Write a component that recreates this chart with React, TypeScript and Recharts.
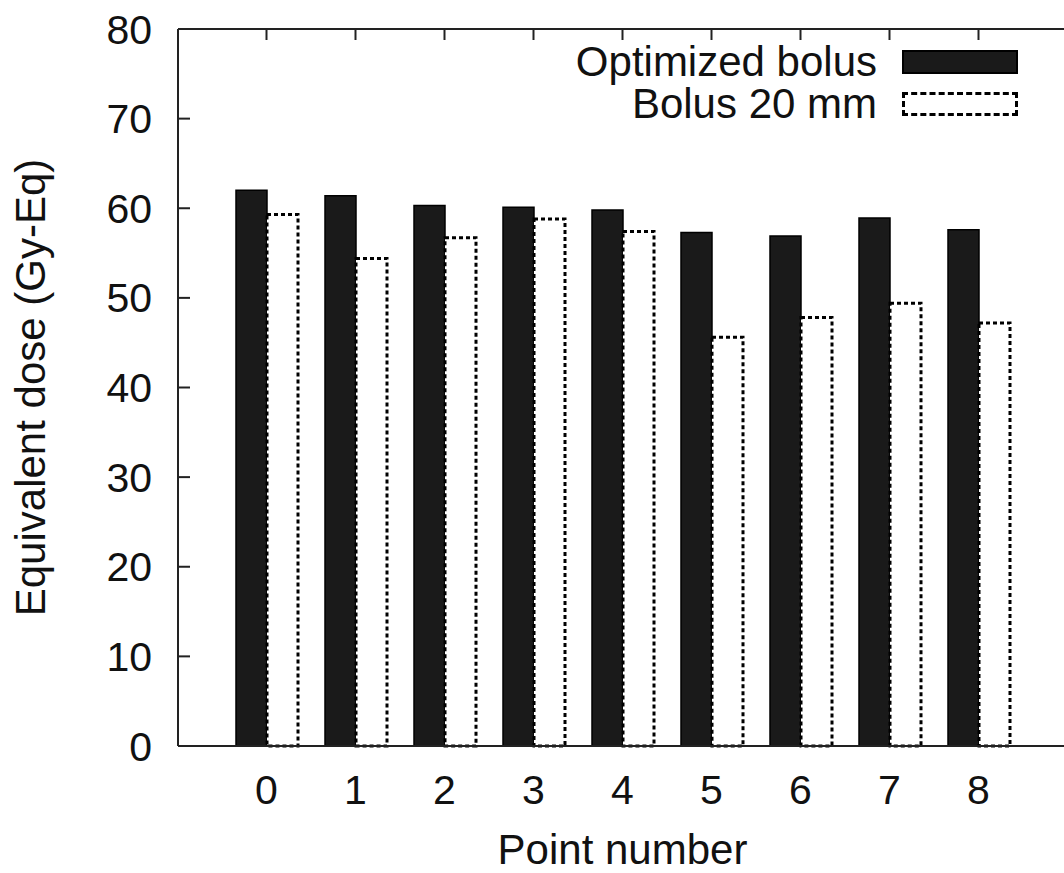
import { Bar, BarChart, Legend, XAxis, YAxis } from 'recharts';

const points = ['0', '1', '2', '3', '4', '5', '6', '7', '8'];
const optimizedBolus = [62.0, 61.4, 60.3, 60.1, 59.8, 57.3, 56.9, 58.9, 57.6];
const bolus20mm = [59.3, 54.4, 56.7, 58.8, 57.4, 45.6, 47.8, 49.4, 47.2];
const yTicks = [0, 10, 20, 30, 40, 50, 60, 70, 80];
const seriesNames = ['Optimized bolus', 'Bolus 20 mm'];
const xTitle = 'Point number';
const yTitle = 'Equivalent dose (Gy-Eq)';

const data = points.map((point, i) => ({
  point,
  optimized: optimizedBolus[i],
  bolus20: bolus20mm[i],
}));

const font = "'Liberation Sans', Arial, sans-serif";
const axisStroke = { stroke: '#222', strokeWidth: 2 };
const innerTick = { stroke: '#222', strokeWidth: 2 };
const tickStyle = { fill: '#111', fontSize: 41, fontFamily: font };
const titleStyle = { fill: '#111', fontSize: 42, fontFamily: font };
const xPadding = { left: 44, right: 44 };

function KeyLegend() {
  const boxes = [
    { background: '#1a1a1a', border: '2px solid #000' },
    { background: '#fff', border: '3px dashed #000' },
  ];
  return (
    <div style={{ fontFamily: font, fontSize: 42, color: '#111' }}>
      {seriesNames.map((name, i) => (
        <div
          key={name}
          style={{
            display: 'flex',
            justifyContent: 'flex-end',
            alignItems: 'center',
            height: 42,
          }}
        >
          <span style={{ display: 'inline-block', height: 40, lineHeight: '40px', overflow: 'visible' }}>{name}</span>
          <span
            style={{
              display: 'inline-block',
              boxSizing: 'border-box',
              width: 116,
              height: 24,
              marginLeft: 25,
              ...boxes[i],
            }}
          />
        </div>
      ))}
    </div>
  );
}

// rotated y title, drawn from the axis viewBox
function YTitle(props: any) {
  const vb = props.viewBox || { x: 0, y: 0, width: 0, height: 0 };
  const cx = vb.x + 30;
  const cy = vb.y + vb.height / 2;
  return (
    <text
      x={cx}
      y={cy}
      transform={`rotate(-90 ${cx} ${cy})`}
      textAnchor="middle"
      dominantBaseline="central"
      dy="0.02em"
      style={titleStyle}
    >
      {yTitle}
    </text>
  );
}

export default function App() {
  return (
    <div style={{ position: 'absolute', left: 0, top: 0, width: 1064, height: 873, overflow: 'hidden', background: '#fff' }}>
      <BarChart
        width={1067}
        height={873}
        data={data}
        margin={{ top: 29, right: 0, bottom: 0, left: 0 }}
        barGap={0}
        barSize={31}
      >
        <XAxis
          dataKey="point"
          padding={xPadding}
          height={127}
          axisLine={axisStroke}
          tickLine={false}
          tick={tickStyle}
          tickMargin={23}
          label={{ value: xTitle, position: 'insideBottom', offset: 9, style: { ...titleStyle, textAnchor: 'middle' } }}
        />
        <XAxis
          xAxisId="top"
          orientation="top"
          dataKey="point"
          padding={xPadding}
          mirror
          height={1}
          axisLine={axisStroke}
          tickLine={innerTick}
          tickSize={11}
          tickFormatter={() => ''}
        />
        <YAxis
          yAxisId="left"
          domain={[0, 80]}
          ticks={yTicks}
          width={178}
          axisLine={axisStroke}
          tickLine={innerTick}
          tickSize={-12}
          tick={tickStyle}
          tickMargin={38}
          label={<YTitle />}
        />
        <YAxis
          yAxisId="right"
          orientation="right"
          domain={[0, 80]}
          ticks={yTicks}
          mirror
          width={1}
          axisLine={axisStroke}
          tickLine={innerTick}
          tickSize={10}
          tickFormatter={() => ''}
        />
        <Legend
          layout="vertical"
          align="center"
          verticalAlign="middle"
          content={() => <KeyLegend />}
          wrapperStyle={{ position: 'absolute', left: 500, top: 41, width: 518 }}
        />
        <Bar
          yAxisId="left"
          dataKey="optimized"
          name={seriesNames[0]}
          fill="#1a1a1a"
          stroke="#000"
          strokeWidth={1.5}
          isAnimationActive={false}
        />
        <Bar
          yAxisId="left"
          dataKey="bolus20"
          name={seriesNames[1]}
          fill="#fff"
          stroke="#000"
          strokeWidth={3}
          strokeDasharray="4 3"
          isAnimationActive={false}
        />
      </BarChart>
    </div>
  );
}
